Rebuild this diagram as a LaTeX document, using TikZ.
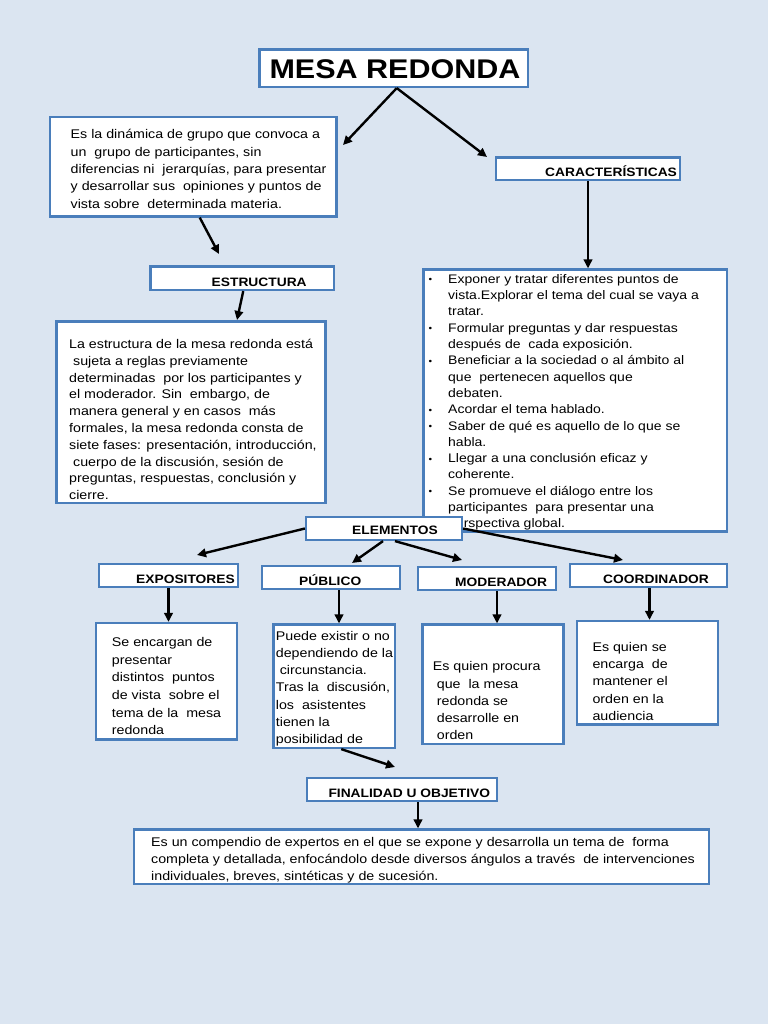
\documentclass[tikz,border=0pt]{standalone}
\usepackage{fontspec}
\setmainfont{Liberation Sans}[FakeStretch=1.13]
\usetikzlibrary{arrows.meta,fit}
\definecolor{bg}{HTML}{DBE5F1}
\definecolor{bord}{HTML}{4A7EBB}
\newcommand\mylines[1]{\begin{tabular}[t]{@{}l@{}}#1\end{tabular}}
\newcommand\mybul{{\fontsize{9}{9}\selectfont\raisebox{0.6pt}{•}}}
\tikzset{
  box/.style={draw=bord, line width=2.2pt, fill=white, inner sep=0pt},
  txt/.style={anchor=base west, inner sep=0pt},
  hd/.style={anchor=base west, inner sep=0pt, font=\fontsize{12.2}{14}\selectfont\bfseries},
  arr/.style={line width=2.4pt, -{Triangle[length=9pt,width=8.5pt]}},
}
\begin{document}
\begin{tikzpicture}[x=1pt,y=-1pt]
\fill[bg] (0,0) rectangle (768,1024);
\useasboundingbox (0,0) rectangle (768,1024);

% title
\node[box, fit={(259.5,49.5) (528,87)}] (title) {};
\node[anchor=base, inner sep=0pt, font=\fontsize{27}{30}\selectfont\bfseries] (titlet) at (395,78.3) {MESA REDONDA};

% definition
\node[box, fit={(50,117) (336.5,216.5)}] (def) {};
\node[txt, font=\fontsize{12.6}{17.4}\selectfont] (deft) at (70.5,138.7) {\mylines{%
Es la dinámica de grupo que convoca a\\
un\ \ grupo de participantes, sin\\
diferencias ni\ \ jerarquías, para presentar\\
y desarrollar sus\ \ opiniones y puntos de\\
vista sobre\ \ determinada materia.}};

% caracteristicas
\node[box, fit={(496,157.5) (680,180)}] (caract) {};
\node[hd] (caractt) at (545,176.7) {CARACTERÍSTICAS};

% estructura heading
\node[box, fit={(150.5,266.5) (334,290)}] (esth) {};
\node[hd] (estht) at (211.5,286.7) {ESTRUCTURA};

% list
\node[box, fit={(423.5,269.5) (727,531.5)}] (list) {};
\node[txt, font=\fontsize{12.4}{16.3}\selectfont] (bul) at (428.5,283.3) {\mylines{%
\mybul\\ \\ \\ \mybul\\ \\ \mybul\\ \\ \\ \mybul\\ \mybul\\ \\ \mybul\\ \\ \mybul\\ \\ }};
\node[txt, font=\fontsize{12.4}{16.3}\selectfont] (listt) at (448,283.3) {\mylines{%
Exponer y tratar diferentes puntos de\\
vista.Explorar el tema del cual se vaya a\\
tratar.\\
Formular preguntas y dar respuestas\\
después de\ \ cada exposición.\\
Beneficiar a la sociedad o al ámbito al\\
que\ \ pertenecen aquellos que\\
debaten.\\
Acordar el tema hablado.\\
Saber de qué es aquello de lo que se\\
habla.\\
Llegar a una conclusión eficaz y\\
coherente.\\
Se promueve el diálogo entre los\\
participantes\ \ para presentar una\\
perspectiva global.}};

% estructura text
\node[box, fit={(56.5,321.5) (325.5,503)}] (estt) {};
\node[txt, font=\fontsize{12.6}{16.8}\selectfont] (esttt) at (69,348.5) {\mylines{%
La estructura de la mesa redonda está\\
\ sujeta a reglas previamente\\
determinadas\ \ por los participantes y\\
el moderador. Sin\ \ embargo, de\\
manera general y en casos\ \ más\\
formales, la mesa redonda consta de\\
siete fases: presentación, introducción,\\
\ cuerpo de la discusión, sesión de\\
preguntas, respuestas, conclusión y\\
cierre.}};

% elementos
\node[box, fit={(306,517) (462,540)}] (elem) {};
\node[hd] (elemt) at (352,534.5) {ELEMENTOS};

\node[box, fit={(99,564) (238,587)}] (expo) {};
\node[hd] (expot0) at (136,583.5) {EXPOSITORES};
\node[box, fit={(262,566) (400,589)}] (pub) {};
\node[hd] (pubt0) at (299,585.5) {PÚBLICO};
\node[box, fit={(418,567) (556,590)}] (mod) {};
\node[hd] (modt0) at (455,586.5) {MODERADOR};
\node[box, fit={(570,564) (727,587)}] (coord) {};
\node[hd] (coordt0) at (603,583.5) {COORDINADOR};

% element texts
\node[box, fit={(96,623) (237,739.5)}] (expot) {};
\node[txt, font=\fontsize{12.6}{17.6}\selectfont] (expott) at (111.7,646.7) {\mylines{%
Se encargan de\\
presentar\\
distintos\ \ puntos\\
de vista\ \ sobre el\\
tema de la\ \ mesa\\
redonda}};

\node[box, fit={(273.5,624.5) (395,748)}] (pubt) {};
\node[txt, font=\fontsize{12.6}{17.3}\selectfont] (pubtt) at (275.7,640) {\mylines{%
Puede existir o no\\
dependiendo de la\\
\ circunstancia.\\
Tras la\ \ discusión,\\
los\ \ asistentes\\
tienen la\\
posibilidad de}};

\node[box, fit={(422.5,624.5) (563.5,744)}] (modt) {};
\node[txt, font=\fontsize{12.6}{17.3}\selectfont] (modtt) at (432.7,670.7) {\mylines{%
Es quien procura\\
\ que\ \ la mesa\\
\ redonda se\\
\ desarrolle en\\
\ orden}};

\node[box, fit={(577,621) (718,724.5)}] (coordt) {};
\node[txt, font=\fontsize{12.6}{17.1}\selectfont] (coordtt) at (592.3,651.7) {\mylines{%
Es quien se\\
encarga\ \ de\\
mantener el\\
orden en la\\
audiencia}};

% finalidad
\node[box, fit={(307,778) (497,801)}] (fin) {};
\node[hd] (fint0) at (328.3,797.5) {FINALIDAD U OBJETIVO};
\node[box, fit={(134,829.5) (709,884)}] (fint) {};
\node[txt, font=\fontsize{12.6}{17.4}\selectfont] (fintt) at (151,846) {\mylines{%
Es un compendio de expertos en el que se expone y desarrolla un tema de\ \ forma\\
completa y detallada, enfocándolo desde diversos ángulos a través\ \ de intervenciones\\
individuales, breves, sintéticas y de sucesión.}};

% free ends
\coordinate (ta) at (343,145);
\coordinate (tb) at (487,157);
\coordinate (dc) at (219,254);
\coordinate (ee) at (237,320);
\coordinate (ef) at (197,555);
\coordinate (eg) at (352,563);
\coordinate (eh) at (462,560);
\coordinate (ei) at (623,560);
\coordinate (pk) at (395,767);
\path ([xshift=3pt]title.south) coordinate (ts)
      ([xshift=6.5pt]def.south) coordinate (ds)
      ([xshift=1pt]esth.south) coordinate (es)
      ([xshift=-1pt]elem.south) coordinate (els1)
      ([xshift=11pt]elem.south) coordinate (els2)
      ([xshift=8pt]pub.south) coordinate (pubs)
      ([xshift=10pt]mod.south) coordinate (mods)
      ([xshift=1pt]coord.south) coordinate (coords)
      ([xshift=7pt]pubt.south) coordinate (pubts)
      ([xshift=16pt]fin.south) coordinate (fins);

\draw[arr] (ts) -- (ta);
\draw[arr] (ts) -- (tb);
\draw[arr] (ds) -- (dc);
\draw[arr] (caract.south) -- (caract.south |- list.north);
\draw[arr] (es) -- (ee);
\draw[arr] (elem.west) -- (ef);
\draw[arr] (els1) -- (eg);
\draw[arr] (els2) -- (eh);
\draw[arr] (elem.east) -- (ei);
\draw[arr] (expo.south) -- (expo.south |- expot.north);
\draw[arr] (pubs) -- (pubs |- pubt.north);
\draw[arr] (mods) -- (mods |- modt.north);
\draw[arr] (coords) -- (coords |- coordt.north);
\draw[arr] (pubts) -- (pk);
\draw[arr] (fins) -- (fins |- fint.north);
\end{tikzpicture}
\end{document}
